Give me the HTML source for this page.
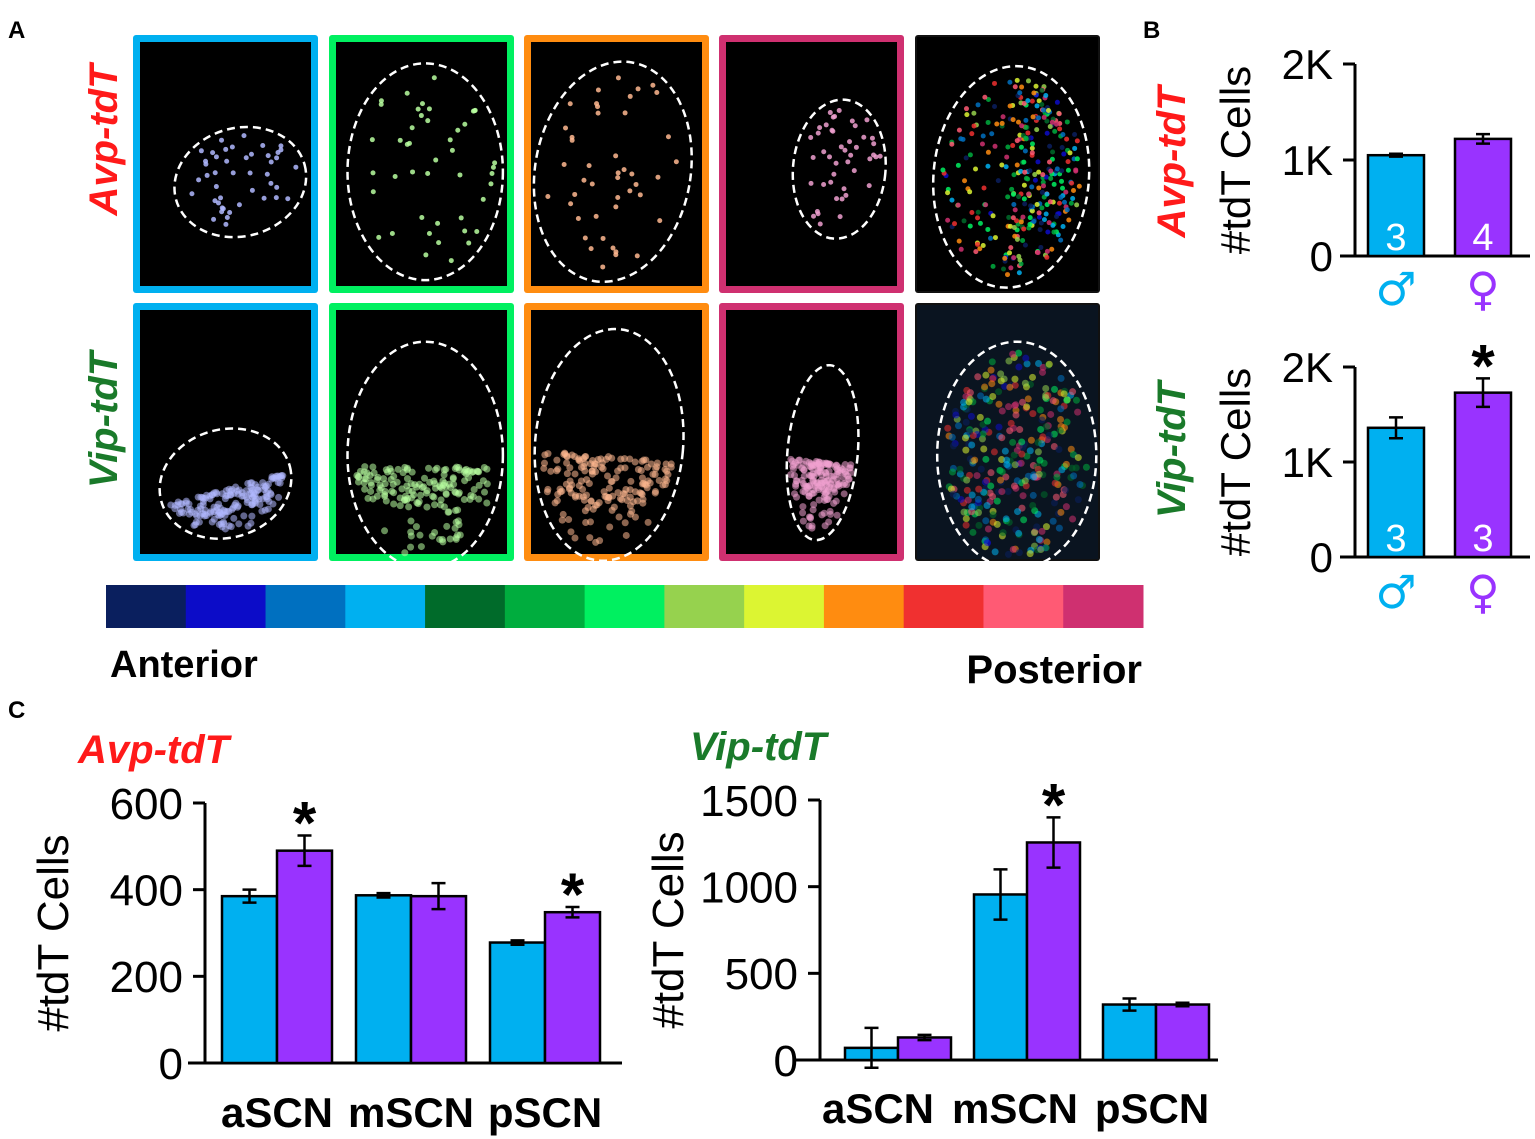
<!DOCTYPE html>
<html><head><meta charset="utf-8"><style>
body{margin:0;background:#fff;}
svg{display:block;font-family:"Liberation Sans",sans-serif;}
</style></head><body>
<svg id="fig" width="1535" height="1139" viewBox="0 0 1535 1139" xmlns="http://www.w3.org/2000/svg">
<g id="panelA">
<text x="8" y="38" font-size="24" font-weight="bold">A</text>
<text transform="translate(117,140) rotate(-90)" text-anchor="middle" font-size="40" font-weight="bold" font-style="italic" fill="#ff1a1a">Avp-tdT</text>
<text transform="translate(117,420) rotate(-90)" text-anchor="middle" font-size="40" font-weight="bold" font-style="italic" fill="#1a7a2a">Vip-tdT</text>
</g>
<g id="colorbar"></g>
<text x="110" y="677" font-size="38" font-weight="bold">Anterior</text>
<text x="1142" y="683" text-anchor="end" font-size="40" font-weight="bold">Posterior</text>
<text x="1143" y="38" font-size="24" font-weight="bold">B</text>
<text x="8" y="718" font-size="24" font-weight="bold">C</text>
<text x="78" y="763" font-size="40" font-weight="bold" font-style="italic" fill="#ff1a1a">Avp-tdT</text>
<text x="690" y="760" font-size="40" font-weight="bold" font-style="italic" fill="#1a7a2a">Vip-tdT</text>
<text transform="translate(1185,162) rotate(-90)" text-anchor="middle" font-size="40" font-weight="bold" font-style="italic" fill="#ff1a1a">Avp-tdT</text>
<text transform="translate(1185,450) rotate(-90)" text-anchor="middle" font-size="40" font-weight="bold" font-style="italic" fill="#1a7a2a">Vip-tdT</text>
<g id="charts"></g>
</svg>
<script>
// ---- Panel B data ----
const bSex = ['male', 'female'];
const bAvpValues = [1050, 1220];
const bAvpErr = [15, 50];
const bAvpN = ['3', '4'];
const bVipValues = [1360, 1730];
const bVipErr = [110, 150];
const bVipN = ['3', '3'];
const bTicks = ['0', '1K', '2K'];
const bTickValues = [0, 1000, 2000];
// ---- Panel C data ----
const cCategories = ['aSCN', 'mSCN', 'pSCN'];
const cAvpMale = [385, 387, 278];
const cAvpFemale = [490, 385, 348];
const cAvpMaleErr = [15, 5, 5];
const cAvpFemaleErr = [35, 30, 12];
const cAvpStars = [1, 0, 1];
const cAvpTicks = [0, 200, 400, 600];
const cVipMale = [70, 955, 320];
const cVipFemale = [130, 1255, 320];
const cVipMaleErr = [115, 145, 35];
const cVipFemaleErr = [15, 145, 10];
const cVipStars = [0, 1, 0];
const cVipTicks = [0, 500, 1000, 1500];
const colorbarColors = ['#0a1f5e','#0c0cc8','#0070c0','#00b0f0','#006b2a','#00ad3e','#00f060','#96d24e','#dcf532','#ff8c10','#f03030','#ff5a74','#cf3070'];

const NS = 'http://www.w3.org/2000/svg';
const MALE = '#00b0f0', FEMALE = '#9933ff';
function mk(tag, attrs, parent){const e=document.createElementNS(NS,tag);for(const k in attrs)e.setAttribute(k,attrs[k]);parent.appendChild(e);return e;}
const charts = document.getElementById('charts');

// colorbar
const cb = document.getElementById('colorbar');
const cbX0=106, cbX1=1143, cbW=(cbX1-cbX0)/colorbarColors.length;
colorbarColors.forEach((c,i)=>{
  const r=mk('rect',{x:cbX0+i*cbW,y:585,width:cbW+0.5,height:43,fill:c},cb);
  
  
});

// panel A images
const pA = document.getElementById('panelA');
const cols=[{x:133,c:'#00b0f0',dot:'#b0b8ff'},{x:329,c:'#00f060',dot:'#b8ffa0'},{x:524,c:'#ff8c10',dot:'#ffb890'},{x:719,c:'#cf3070',dot:'#f0a0d0'},{x:915,c:'#111',dot:null}];
const rows=[35,303];
let seed=7;function rnd(){seed=(seed*16807)%2147483647;return seed/2147483647;}
const shapes=[
 [{cx:0.58,cy:0.57,rx:0.36,ry:0.21,rot:-15},{cx:0.52,cy:0.53,rx:0.42,ry:0.42,rot:0},{cx:0.48,cy:0.53,rx:0.42,ry:0.43,rot:10},{cx:0.65,cy:0.52,rx:0.25,ry:0.27,rot:5},{cx:0.52,cy:0.55,rx:0.42,ry:0.43,rot:5}],
 [{cx:0.5,cy:0.7,rx:0.36,ry:0.21,rot:-15},{cx:0.52,cy:0.59,rx:0.42,ry:0.44,rot:0},{cx:0.46,cy:0.55,rx:0.4,ry:0.45,rot:5},{cx:0.56,cy:0.58,rx:0.19,ry:0.34,rot:5},{cx:0.55,cy:0.59,rx:0.43,ry:0.44,rot:0}]
];
rows.forEach((y,ri)=>{
  cols.forEach((col,ci)=>{
    const w=185,h=258;
    const g=mk('g',{},pA);
    
    
    mk('rect',{x:col.x,y:y,width:w,height:h,fill:col.c,rx:3},g);
    const b=ci===4?2:7;
    mk('rect',{x:col.x+b,y:y+b,width:w-2*b,height:h-2*b,fill:ci===4&&ri===1?'#0a1420':'#000'},g);
    const s=shapes[ri][ci];
    const cx=col.x+s.cx*w, cy=y+s.cy*h, rx=s.rx*w, ry=s.ry*h;
    const n=ci===4?320:(ri===1?170:45);
    const rad=s.rot*Math.PI/180;
    for(let k=0;k<n;k++){
      const a=rnd()*Math.PI*2, r=Math.sqrt(rnd());
      let px=Math.cos(a)*r*rx*0.9, py=Math.sin(a)*r*ry*0.9;
      if(ri===1 && ci!==4 && py<ry*0.1) py=ry*0.1+Math.abs(py)*0.5;
      if(ri===0 && ci===4 && rnd()<0.5) px=Math.abs(px);
      const X=cx+px*Math.cos(rad)-py*Math.sin(rad), Y=cy+px*Math.sin(rad)+py*Math.cos(rad);
      let fill=col.dot;
      if(ci===4){fill=colorbarColors[Math.floor(rnd()*colorbarColors.length)];}
      mk('circle',{cx:X,cy:Y,r:ri===1?3.5:2.5,fill:fill,opacity:ri===1?0.55:0.85},g);
    }
    mk('ellipse',{cx:cx,cy:cy,rx:rx,ry:ry,transform:`rotate(${s.rot} ${cx} ${cy})`,fill:'none',stroke:'#fff','stroke-width':2.5,'stroke-dasharray':'8 5'},g);
  });
});

function barChart(o){
  const g=mk('g',{},charts);
  
  
  const ys=v=>o.y0-(v-o.vmin)/(o.vmax-o.vmin)*(o.y0-o.ytop);
  mk('line',{x1:o.ax,y1:o.ytop,x2:o.ax,y2:o.y0,stroke:'#000','stroke-width':3},g);
  mk('line',{x1:o.bx0,y1:o.y0,x2:o.bx1,y2:o.y0,stroke:'#000','stroke-width':3},g);
  o.ticks.forEach((t,i)=>{
    const yy=ys(o.tickVals[i]);
    mk('line',{x1:o.ax-12,y1:yy,x2:o.ax,y2:yy,stroke:'#000','stroke-width':3},g);
    const tx=mk('text',{x:o.ax-22,y:yy+o.fs*0.36,'text-anchor':'end','font-size':o.fs},g);
    tx.textContent=t;
    
    
  });
  const yt=mk('text',{transform:`translate(${o.ytx},${(o.ytop+o.y0)/2}) rotate(-90)`,'text-anchor':'middle','font-size':o.fs},g);
  yt.textContent='#tdT Cells';
  
  
  o.bars.forEach(b=>{
    const top=ys(b.v);
    const r=mk('rect',{x:b.x,y:top,width:b.w,height:o.y0-top,fill:b.c,stroke:'#000','stroke-width':2.5},g);
    
    
    const mx=b.x+b.w/2, e1=ys(b.v+b.e), e2=ys(b.v-b.e);
    const eb=mk('path',{d:`M${mx-7},${e1}H${mx+7}M${mx},${e1}V${e2}M${mx-7},${e2}H${mx+7}`,stroke:'#000','stroke-width':2.5,fill:'none'},g);
    
    
    if(b.star){
      const st=mk('text',{x:mx,y:e1+8,'text-anchor':'middle','font-size':60,'font-weight':'bold'},g);
      st.textContent='*';
      
      
    }
    if(b.n){
      const nt=mk('text',{x:mx,y:o.y0-6,'text-anchor':'middle','font-size':38,fill:'#fff'},g);
      nt.textContent=b.n;
      
      
    }
  });
  (o.xlabels||[]).forEach(l=>{
    const t=mk('text',{x:l.x,y:l.y,'text-anchor':'middle','font-size':l.fs,'font-weight':l.bold?'bold':'normal',fill:l.c||'#000'},g);
    if(l.ff) t.setAttribute('font-family',l.ff);
    t.textContent=l.t;
    
    
  });
  return g;
}

function bBars(vals,errs,ns,stars){
  const xs=[1368,1455];
  return bSex.map((s,i)=>({x:xs[i],w:56,v:vals[i],e:errs[i],c:i?FEMALE:MALE,n:ns[i],star:stars[i],name:'bar-'+s}));
}
const sexLabels=y=>[{x:1396,y:y,t:'♂',fs:46,c:MALE,bold:true,ff:'DejaVu Sans',name:'x-label-male'},{x:1483,y:y,t:'♀',fs:46,c:FEMALE,bold:true,ff:'DejaVu Sans',name:'x-label-female'}];
barChart({name:'b-avp-chart',ax:1355,ytop:64,y0:256,vmin:0,vmax:2000,bx0:1340,bx1:1530,ticks:bTicks,tickVals:bTickValues,fs:42,ytx:1250,
  bars:bBars(bAvpValues,bAvpErr,bAvpN,[0,0]),xlabels:sexLabels(305)});
barChart({name:'b-vip-chart',ax:1355,ytop:367,y0:557,vmin:0,vmax:2000,bx0:1340,bx1:1530,ticks:bTicks,tickVals:bTickValues,fs:42,ytx:1250,
  bars:bBars(bVipValues,bVipErr,bVipN,[0,1]),xlabels:sexLabels(608)});

function cBars(m,f,me,fe,stars,x0,gap,w){
  const out=[];
  cCategories.forEach((c,i)=>{
    const gx=x0+i*gap;
    out.push({x:gx,w:w,v:m[i],e:me[i],c:MALE,name:'bar-'+c+'-male'});
    out.push({x:gx+w,w:w,v:f[i],e:fe[i],c:FEMALE,star:stars[i],name:'bar-'+c+'-female'});
  });
  return out;
}
barChart({name:'c-avp-chart',ax:205,ytop:803,y0:1063,vmin:0,vmax:600,bx0:188,bx1:622,ticks:cAvpTicks.map(String),tickVals:cAvpTicks,fs:44,ytx:68,
  bars:cBars(cAvpMale,cAvpFemale,cAvpMaleErr,cAvpFemaleErr,cAvpStars,222,134,55),
  xlabels:cCategories.map((c,i)=>({x:277+i*134,y:1127,t:c,fs:42,bold:true,name:'x-label-'+c}))});
barChart({name:'c-vip-chart',ax:820,ytop:800,y0:1060,vmin:0,vmax:1500,bx0:795,bx1:1218,ticks:cVipTicks.map(String),tickVals:cVipTicks,fs:44,ytx:683,
  bars:cBars(cVipMale,cVipFemale,cVipMaleErr,cVipFemaleErr,cVipStars,845,129,53),
  xlabels:cCategories.map((c,i)=>({x:878+i*137,y:1123,t:c,fs:42,bold:true,name:'x-label-'+c}))});
</script>
</body></html>
